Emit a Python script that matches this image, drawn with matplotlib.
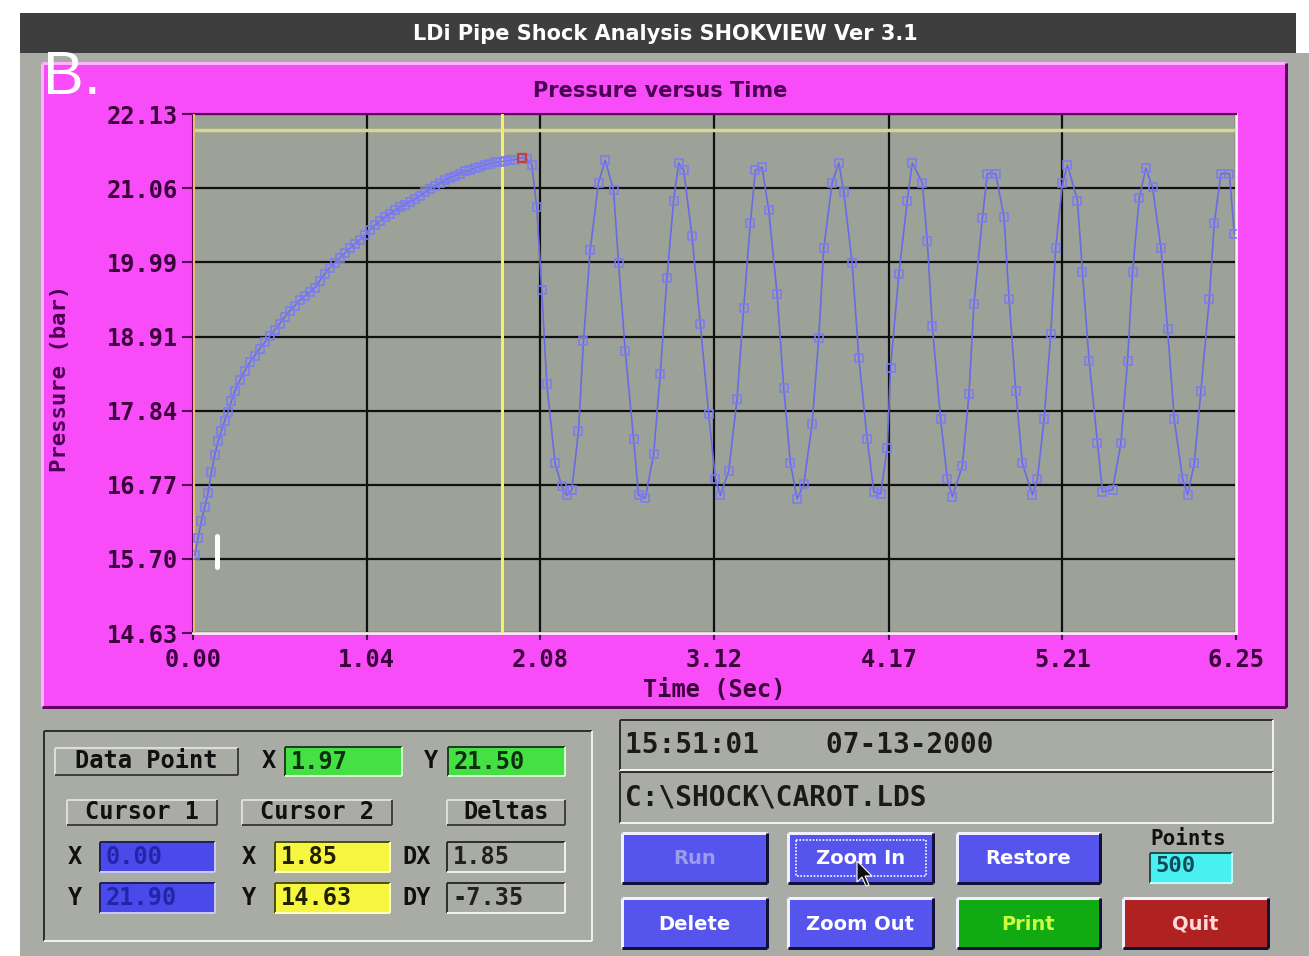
import matplotlib
matplotlib.use('Agg')
import matplotlib.pyplot as plt
from matplotlib.patches import Rectangle, Polygon
from matplotlib import font_manager

_names = {f.name for f in font_manager.fontManager.ttflist}
NARROW = 'Liberation Sans Narrow' if 'Liberation Sans Narrow' in _names else 'DejaVu Sans'
SANS = 'Liberation Sans' if 'Liberation Sans' in _names else 'DejaVu Sans'
MONO = 'DejaVu Sans Mono'

# ---------------- data ----------------
time_s = [0.01, 0.03, 0.05, 0.07, 0.09, 0.11, 0.13, 0.15, 0.17, 0.19, 0.21, 0.23, 0.25,
          0.28, 0.31, 0.34, 0.37, 0.40, 0.43, 0.46, 0.49, 0.52, 0.55, 0.58, 0.61, 0.64,
          0.67, 0.70, 0.73, 0.76, 0.79, 0.82, 0.85, 0.88, 0.91, 0.94, 0.97, 1.00, 1.03,
          1.06, 1.09, 1.12, 1.15, 1.18, 1.21, 1.24, 1.27, 1.30, 1.33, 1.36, 1.39, 1.42,
          1.45, 1.48, 1.51, 1.54, 1.57, 1.60, 1.63, 1.66, 1.69, 1.72, 1.75, 1.78, 1.81,
          1.84, 1.87, 1.90, 1.93, 1.97, 2.00, 2.03,
          2.06, 2.09, 2.12, 2.17, 2.21, 2.24, 2.27, 2.31, 2.34, 2.38, 2.43, 2.47, 2.52,
          2.55, 2.59, 2.64, 2.67, 2.71, 2.76, 2.80, 2.84, 2.88, 2.91, 2.94, 2.99, 3.04,
          3.09, 3.13, 3.16, 3.21, 3.26, 3.30, 3.34, 3.37, 3.41, 3.45, 3.50, 3.54, 3.58,
          3.62, 3.66, 3.71, 3.75, 3.78, 3.83, 3.87, 3.90, 3.95, 3.99, 4.04, 4.08, 4.12,
          4.16, 4.18, 4.23, 4.28, 4.31, 4.37, 4.40, 4.43, 4.48, 4.52, 4.55, 4.61, 4.65,
          4.68, 4.73, 4.76, 4.81, 4.86, 4.89, 4.93, 4.97, 5.03, 5.06, 5.10, 5.14, 5.17,
          5.21, 5.24, 5.30, 5.33, 5.37, 5.42, 5.45, 5.51, 5.56, 5.60, 5.63, 5.67, 5.71,
          5.75, 5.80, 5.84, 5.88, 5.93, 5.96, 6.00, 6.04, 6.09, 6.12, 6.16, 6.21, 6.24]
pressure_bar = [15.75, 16.00, 16.25, 16.45, 16.65, 16.95, 17.20, 17.40, 17.55, 17.70, 17.82,
                17.98, 18.12, 18.28, 18.42, 18.54, 18.64, 18.74, 18.83, 18.92, 19.01, 19.10,
                19.20, 19.29, 19.36, 19.44, 19.50, 19.56, 19.62, 19.72, 19.82, 19.91, 19.98,
                20.05, 20.12, 20.19, 20.25, 20.31, 20.38, 20.45, 20.52, 20.59, 20.64, 20.69,
                20.74, 20.78, 20.82, 20.86, 20.90, 20.95, 21.00, 21.05, 21.09, 21.13, 21.17,
                21.21, 21.24, 21.27, 21.30, 21.32, 21.35, 21.37, 21.39, 21.41, 21.43, 21.44,
                21.45, 21.46, 21.47, 21.50, 21.48, 21.40,
                20.78, 19.58, 18.23, 17.08, 16.75, 16.62, 16.70, 17.55, 18.85, 20.16, 21.14,
                21.46, 21.03, 19.98, 18.71, 17.44, 16.62, 16.58, 17.21, 18.37, 19.76, 20.88,
                21.42, 21.32, 20.37, 19.10, 17.80, 16.86, 16.62, 16.97, 18.01, 19.33, 20.56,
                21.32, 21.36, 20.74, 19.53, 18.17, 17.08, 16.57, 16.78, 17.65, 18.90, 20.19,
                21.14, 21.42, 21.00, 19.97, 18.60, 17.43, 16.67, 16.64, 17.30, 18.46, 19.82,
                20.88, 21.42, 21.14, 20.30, 19.07, 17.72, 16.86, 16.60, 17.04, 18.08, 19.39,
                20.62, 21.27, 21.27, 20.64, 19.46, 18.13, 17.08, 16.63, 16.85, 17.72, 18.95,
                20.20, 21.13, 21.39, 20.88, 19.84, 18.56, 17.37, 16.67, 16.70, 17.37, 18.56,
                19.84, 20.91, 21.35, 21.07, 20.20, 19.02, 17.72, 16.86, 16.63, 17.08, 18.13,
                19.46, 20.56, 21.27, 21.27, 20.40]
x_ticks = [0.00, 1.04, 2.08, 3.12, 4.17, 5.21, 6.25]
y_ticks = [14.63, 15.70, 16.77, 17.84, 18.91, 19.99, 21.06, 22.13]
data_point = (1.97, 21.50)
cursor1 = (0.00, 21.90)
cursor2 = (1.85, 14.63)
deltas = (1.85, -7.35)
n_points = 500
timestamp = "15:51:01    07-13-2000"
file_path = "C:\\SHOCK\\CAROT.LDS"
window_title = "LDi Pipe Shock Analysis SHOKVIEW Ver 3.1"

# ---------------- figure ----------------
W, H = 1309, 956
fig = plt.figure(figsize=(W / 100, H / 100), dpi=100)
fig.patch.set_facecolor('white')

ui = fig.add_axes([0, 0, 1, 1], zorder=0)
ui.set_xlim(0, W)
ui.set_ylim(H, 0)
ui.axis('off')

GREY = '#a9aca4'
MAG = '#f84cf8'
PX = 0.72  # points per pixel


def rect(x0, y0, x1, y1, color, z=1, **kw):
    ui.add_patch(Rectangle((x0, y0), x1 - x0, y1 - y0, facecolor=color,
                           edgecolor='none', zorder=z, **kw))


def bevel(x0, y0, x1, y1, face, raised=True, hl='#f4f4f4', sh='#303040', w=2, z=2):
    rect(x0, y0, x1, y1, face, z=z)
    top, bot = (hl, sh) if raised else (sh, hl)
    lw = w * PX
    ui.plot([x0, x1], [y0, y0], color=top, lw=lw, solid_capstyle='butt', zorder=z + 0.1)
    ui.plot([x0, x0], [y0, y1], color=top, lw=lw, solid_capstyle='butt', zorder=z + 0.1)
    ui.plot([x0, x1], [y1, y1], color=bot, lw=lw, solid_capstyle='butt', zorder=z + 0.1)
    ui.plot([x1, x1], [y0, y1], color=bot, lw=lw, solid_capstyle='butt', zorder=z + 0.1)


def label(x, y, s, size=17, color='#101010', ha='left', family=MONO, weight='bold', **kw):
    ui.text(x, y, s, fontsize=size, color=color, ha=ha, va='center',
            family=family, fontweight=weight, zorder=6, **kw)


# window background and title bar
rect(20, 53, W, H, GREY, z=0.5)
rect(20, 13, 1296, 53, '#3e3e3e', z=0.6)
ui.text(665, 34, window_title, fontsize=20 if NARROW != 'DejaVu Sans' else 15,
        color='white', ha='center', va='center', family=NARROW, fontweight='bold', zorder=6)

# magenta chart panel
bevel(42, 63, 1286, 707, MAG, raised=True, hl='#ffb0ff', sh='#600060', w=3, z=1)
ui.text(43, 94, 'B.', fontsize=44, color='white', family=SANS, ha='left',
        va='baseline', zorder=7)
ui.text(660, 91, 'Pressure versus Time', fontsize=20 if NARROW != 'DejaVu Sans' else 15,
        color='#4a0050', ha='center', va='center', family=NARROW, fontweight='bold', zorder=6)
ui.text(60, 378, 'Pressure (bar)', fontsize=16, color='#4a0050', rotation=90,
        ha='center', va='center', family=MONO, fontweight='bold', zorder=6)
ui.text(714, 690, 'Time (Sec)', fontsize=17, color='#3a003a', ha='center',
        va='center', family=MONO, fontweight='bold', zorder=6)

# ---------------- plot axes ----------------
L, R, T, B = 193, 1236, 114, 633
ax = fig.add_axes([L / W, 1 - B / H, (R - L) / W, (B - T) / H], zorder=2)
ax.set_facecolor('#9da298')
ax.set_xlim(x_ticks[0], x_ticks[-1])
ax.set_ylim(y_ticks[0], y_ticks[-1])
ax.set_xticks(x_ticks)
ax.set_xticklabels([f'{v:.2f}' for v in x_ticks])
ax.set_yticks(y_ticks)
ax.set_yticklabels([f'{v:.2f}' for v in y_ticks])
ax.grid(True, color='#101010', lw=1.6)
ax.set_axisbelow(True)
ax.tick_params(axis='y', direction='out', length=8, width=1.5, color='#500050',
               labelsize=17, labelcolor='#3a003a', pad=3)
ax.tick_params(axis='x', direction='out', length=5, width=1.5, color='#500050',
               labelsize=17, labelcolor='#3a003a', pad=6)
for lab in ax.get_xticklabels() + ax.get_yticklabels():
    lab.set_family(MONO)
    lab.set_fontweight('bold')
for side in ('left', 'top'):
    ax.spines[side].set_color('#5a005a')
    ax.spines[side].set_linewidth(1.5)
for side in ('right', 'bottom'):
    ax.spines[side].set_color('#f6eef0')
    ax.spines[side].set_linewidth(2)

# cursors
ax.axhline(cursor1[1], color='#d6d68e', lw=2.5, zorder=3)
ax.axvline(cursor1[0], color='#f0b868', lw=3, zorder=3)
ax.axvline(cursor2[0], color='#f2f264', lw=2.2, zorder=3)

# data trace
ax.plot(time_s, pressure_bar, color='#6a6ae6', lw=1.2, marker='s', ms=5.5,
        mfc='none', mec='#7c7cf0', mew=1.2, zorder=4)
ax.plot([data_point[0]], [data_point[1]], marker='s', ms=6, mfc='none',
        mec='#c04048', mew=1.6, ls='none', zorder=5)

# ---------------- lower left panel ----------------
bevel(44, 731, 592, 941, GREY, raised=False, hl='#f0f0f0', sh='#303030', w=2)

bevel(55, 748, 238, 775, GREY, raised=True, hl='#dcdcdc', sh='#404040')
label(146, 761, 'Data Point', ha='center')
label(262, 761, 'X')
bevel(285, 747, 402, 776, '#44e044', raised=False, sh='#204020', hl='#d0ffd0')
label(291, 762, f'{data_point[0]:.2f}', color='#0c300c')
label(424, 761, 'Y')
bevel(448, 747, 565, 776, '#44e044', raised=False, sh='#204020', hl='#d0ffd0')
label(454, 762, f'{data_point[1]:.2f}', color='#0c300c')

bevel(67, 800, 217, 825, GREY, raised=True, hl='#dcdcdc', sh='#404040')
label(142, 812, 'Cursor 1', ha='center')
bevel(242, 800, 392, 825, GREY, raised=True, hl='#dcdcdc', sh='#404040')
label(317, 812, 'Cursor 2', ha='center')
bevel(447, 800, 565, 825, GREY, raised=True, hl='#dcdcdc', sh='#404040')
label(506, 812, 'Deltas', ha='center')

row_y = [(842, 872), (883, 913)]
for (y0, y1), nm, v1, v2, dn, dv in zip(row_y, ['X', 'Y'],
                                         [cursor1[0], cursor1[1]],
                                         [cursor2[0], cursor2[1]],
                                         ['DX', 'DY'], [deltas[0], deltas[1]]):
    yc = (y0 + y1) / 2
    label(68, yc, nm)
    bevel(100, y0, 215, y1, '#4a4aea', raised=False, sh='#202060', hl='#c8c8ff')
    label(106, yc, f'{v1:.2f}', color='#2424a8')
    label(242, yc, nm)
    bevel(275, y0, 390, y1, '#f6f640', raised=False, sh='#505010', hl='#ffffc0')
    label(281, yc, f'{v2:.2f}', color='#202000')
    label(402, yc, dn)
    bevel(447, y0, 565, y1, GREY, raised=False, sh='#303030', hl='#f0f0f0')
    label(453, yc, f'{dv:.2f}', color='#202020')

# ---------------- lower right panel ----------------
bevel(620, 720, 1273, 770, GREY, raised=False, sh='#303030', hl='#f0f0f0')
label(625, 745, timestamp, size=20, color='#1a1a1a', weight='bold')
bevel(620, 772, 1273, 823, GREY, raised=False, sh='#303030', hl='#f0f0f0')
label(625, 798, file_path, size=20, color='#1a1a1a', weight='bold')

BTN = 17 if NARROW != 'DejaVu Sans' else 14
buttons = [
    (622, 833, 767, 883, '#5555ee', 'Run', '#9c9cec'),
    (788, 833, 933, 883, '#5555ee', 'Zoom In', '#ffffff'),
    (957, 833, 1100, 883, '#5555ee', 'Restore', '#ffffff'),
    (622, 898, 767, 948, '#5555ee', 'Delete', '#ffffff'),
    (788, 898, 933, 948, '#5555ee', 'Zoom Out', '#ffffff'),
    (957, 898, 1100, 948, '#12aa12', 'Print', '#ccff44'),
    (1123, 898, 1268, 948, '#b02222', 'Quit', '#ffd8d8'),
]
for x0, y0, x1, y1, face, txt, tc in buttons:
    bevel(x0, y0, x1, y1, face, raised=True, hl='#f0f0ff', sh='#101038', w=3)
    ui.text((x0 + x1) / 2, (y0 + y1) / 2 + 1, txt, fontsize=BTN, color=tc, ha='center',
            va='center', family=NARROW, fontweight='bold', zorder=6)
ui.add_patch(Rectangle((796, 840), 130, 36, facecolor='none', edgecolor='white',
                       lw=1.2, ls=(0, (1, 1)), zorder=5))

label(1188, 839, 'Points', size=15, ha='center')
bevel(1150, 853, 1232, 883, '#48f0f0', raised=False, sh='#205050', hl='#c0ffff')
label(1155, 866, f'{n_points}', size=16, color='#104858')

# ---------------- overlay: text cursor and mouse pointer ----------------
ov = fig.add_axes([0, 0, 1, 1], zorder=10)
ov.set_xlim(0, W)
ov.set_ylim(H, 0)
ov.axis('off')
ov.patch.set_alpha(0)
ov.plot([217, 217], [536, 567], color='white', lw=5 * PX, solid_capstyle='round')
tip = (857, 861)
arrow = [(0, 0), (0, 21), (5, 16), (9, 25), (12, 24), (8, 15), (15, 15)]
ov.add_patch(Polygon([(tip[0] + a, tip[1] + b) for a, b in arrow], closed=True,
                     facecolor='#101010', edgecolor='white', lw=0.8))

fig.savefig('out.png', dpi=100, facecolor=fig.get_facecolor())
